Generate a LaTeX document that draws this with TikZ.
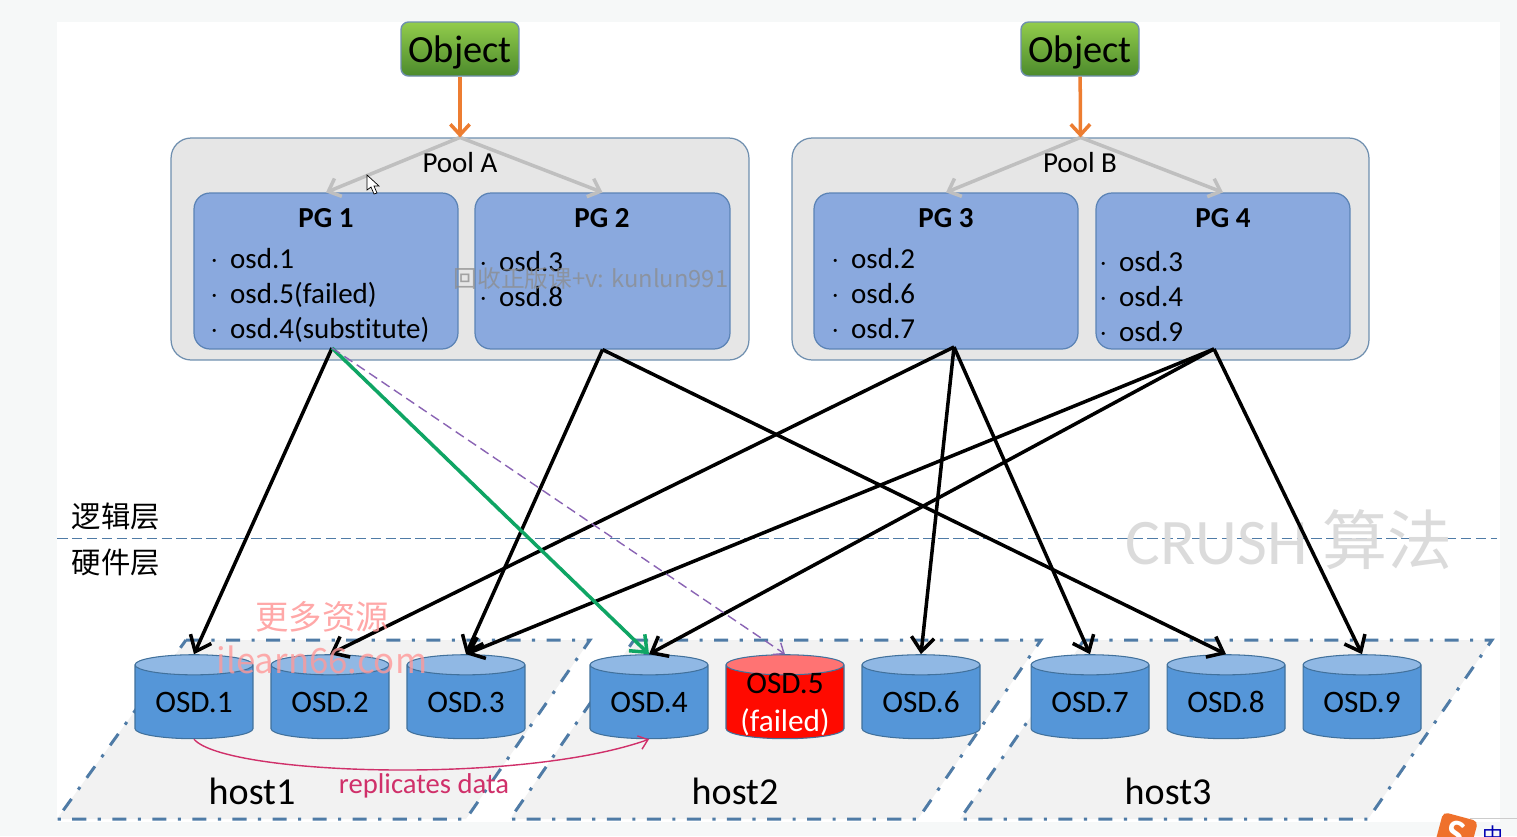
\documentclass[tikz,border=0pt]{standalone}
\usepackage{fontspec}
\setmainfont{Carlito}[Ligatures=NoCommon]
\newfontfamily\cjk{Noto Sans CJK SC}
\usepackage{tikz}
\usetikzlibrary{arrows.meta,positioning,backgrounds,calc,shapes.geometric}
\definecolor{pageback}{HTML}{F6F8F8}
\definecolor{panelline}{HTML}{6F8FAF}
\definecolor{poolfill}{HTML}{E6E6E6}
\definecolor{pgfill}{HTML}{8AA9DE}
\definecolor{pgline}{HTML}{5B83B5}
\definecolor{hostfill}{HTML}{F2F2F2}
\definecolor{hostline}{HTML}{4F7BA6}
\definecolor{osdbody}{HTML}{5596D8}
\definecolor{osdtop}{HTML}{90B8E4}
\definecolor{osdline}{HTML}{41719C}
\definecolor{replred}{HTML}{D0306A}
\definecolor{greenline}{HTML}{0FA564}
\definecolor{orangeline}{HTML}{ED7D31}
\definecolor{failline}{HTML}{8A64B4}
\definecolor{objtop}{HTML}{92CC4C}
\definecolor{objbottom}{HTML}{4C8A2C}
\newcommand{\li}{\makebox[11.3pt][l]{$\cdot$}}
\tikzset{
  px/.style={x=0.02cm,y=-0.02cm},
  objbox/.style={draw=panelline, line width=0.8pt, rounded corners=1.5mm, minimum width=2.36cm, minimum height=1.08cm,
    top color=objtop, bottom color=objbottom, inner sep=0pt, text depth=0pt, font=\fontsize{21.9}{24}\selectfont},
  poolbox/.style={draw=panelline, fill=poolfill, line width=0.7pt, rounded corners=4mm, inner sep=0pt},
  pgbox/.style={draw=pgline, fill=pgfill, line width=0.7pt, rounded corners=3.2mm, inner sep=0pt},
  pgtitle/.style={font=\fontsize{16.5}{20}\selectfont\bfseries, inner sep=0pt},
  pgtext/.style={font=\fontsize{16.5}{19.9}\selectfont, inner sep=0pt, anchor=north west, align=left},
  osd/.style={cylinder, shape border rotate=90, aspect=0.26, draw=osdline, line width=0.6pt, cylinder uses custom fill,
    cylinder body fill=osdbody, cylinder end fill=osdtop, minimum width=2.36cm, minimum height=1.68cm, inner sep=0pt,
    font=\fontsize{17.8}{20}\selectfont},
  osdfail/.style={osd, cylinder body fill=red!92!orange, cylinder end fill=red!55!white},
  hostpanel/.style={fill=hostfill, draw=hostline, line width=1.7pt, dash pattern=on 8pt off 6.5pt on 1.8pt off 6.5pt},
  hostlabel/.style={font=\fontsize{21.7}{24}\selectfont, inner sep=0pt},
  link/.style={-{Straight Barb[length=8pt,width=13pt]}, black, line width=2pt},
  thin link/.style={-{Straight Barb[length=6pt,width=11pt]}, orangeline, line width=2pt},
  gray link/.style={-{Straight Barb[length=6pt,width=11pt]}, gray!50, line width=2pt},
  fine link/.style={-{Straight Barb[length=5pt,width=8pt]}, line width=0.8pt}
}

\begin{document}
\begin{tikzpicture}[px]
  \useasboundingbox (0,0) rectangle (1517,836);
  \clip (0,0) rectangle (1517,836);
  \fill[pageback] (0,0) rectangle (1517,836);
  \fill[white] (57,22) rectangle (1500,822);

  % hosts
  \draw[hostpanel] (186,640) -- (590,640) -- (466,819) -- (57,819) -- cycle;
  \draw[hostpanel] (634,640) -- (1041,640) -- (918,819) -- (510,819) -- cycle;
  \draw[hostpanel] (1084,640) -- (1492,640) -- (1368,819) -- (960,819) -- cycle;
  \node[hostlabel] (host1) at (252,791) {host1};
  \node[hostlabel] (host2) at (735,791) {host2};
  \node[hostlabel] (host3) at (1168,791) {host3};

  % layers
  \coordinate (layerl) at (57,538);
  \coordinate (layerr) at (1497,538);
  \draw[hostline, line width=0.5pt, dashed, dash pattern=on 6pt off 2.5pt] (layerl) -- (layerr);
  \node[font=\cjk\fontsize{16.7}{20}\selectfont, inner sep=0pt] (logic) at (116,516) {逻辑层};
  \node[font=\cjk\fontsize{16.7}{20}\selectfont, inner sep=0pt] (hard) at (116,563) {硬件层};
  \node[text=black!14, font=\fontsize{37}{40}\selectfont, inner sep=0pt] (crush) at (1289,540) {CRUSH {\cjk 算法}};

  % pools
  \node[objbox] (obja) at (460,49) {Object};
  \node[objbox] (objb) at (1080,49) {Object};
  \node[poolbox, minimum width=11.56cm, minimum height=4.44cm] (poola) at (460,249) {};
  \node[poolbox, minimum width=11.54cm, minimum height=4.44cm] (poolb) at (1080.5,249) {};
  \node[pgbox, minimum width=5.28cm, minimum height=3.12cm] (pg1) at (326,271) {};
  \node[pgbox, minimum width=5.1cm, minimum height=3.12cm] (pg2) at (602.5,271) {};
  \node[pgbox, minimum width=5.28cm, minimum height=3.12cm] (pg3) at (946,271) {};
  \node[pgbox, minimum width=5.08cm, minimum height=3.12cm] (pg4) at (1223,271) {};
  \draw[gray link] (poola.north) -- (pg1.north);
  \draw[gray link] (poola.north) -- (pg2.north);
  \draw[gray link] (poolb.north) -- (pg3.north);
  \draw[gray link] (poolb.north) -- (pg4.north);
  \draw[thin link] (obja) -- (poola.north);
  \draw[thin link] (objb) -- (poolb.north);
  \node[font=\fontsize{16.5}{20}\selectfont, inner sep=0pt] (poolalabel) at (460,163) {Pool A};
  \node[font=\fontsize{16.5}{20}\selectfont, inner sep=0pt] (poolblabel) at (1080,163) {Pool B};
  \node[pgtitle] (pg1title) at (326,218) {PG 1};
  \node[pgtitle] (pg2title) at (602,218) {PG 2};
  \node[pgtitle] (pg3title) at (946,218) {PG 3};
  \node[pgtitle] (pg4title) at (1223,218) {PG 4};
  \node[pgtext] (pg1list) at (210,248) {\li osd.1\\ \li osd.5(failed)\\ \li osd.4(substitute)};
  \node[pgtext] (pg2list) at (479,251) {\li osd.3\\ \li osd.8};
  \node[pgtext] (pg3list) at (831,248) {\li osd.2\\ \li osd.6\\ \li osd.7};
  \node[pgtext] (pg4list) at (1099,251) {\li osd.3\\ \li osd.4\\ \li osd.9};

  % disks
  \node[osd] (osd1) at (194,702) {OSD.1};
  \node[osd] (osd2) at (330,702) {OSD.2};
  \node[osd] (osd3) at (466,702) {OSD.3};
  \node[osd] (osd4) at (649,702) {OSD.4};
  \node[osdfail] (osd5) at (785,702) {\phantom{OSD.5}};
  \node[font=\fontsize{17.8}{20}\selectfont, inner sep=0pt] (osd5name) at (785,683) {OSD.5};
  \node[text=white, font=\fontsize{17.8}{20}\selectfont, inner sep=0pt] (osd5state) at (785,722) {(failed)};
  \node[osd] (osd6) at (921,702) {OSD.6};
  \node[osd] (osd7) at (1090,702) {OSD.7};
  \node[osd] (osd8) at (1226,702) {OSD.8};
  \node[osd] (osd9) at (1362,702) {OSD.9};

  % mapping
  \coordinate (pg1out) at (332,348);
  \coordinate (pg3out) at (954,347);
  \coordinate (pg4out) at (1214,349);
  \draw[link] (pg1out) -- (osd1.north);
  \draw[link] (pg2.south) -- (osd3.north);
  \draw[link] (pg2.south) -- (osd8.north);
  \draw[link] (pg3out) -- (osd2.north);
  \draw[link] (pg3out) -- (osd6.north);
  \draw[link] (pg3out) -- (osd7.north);
  \draw[link] (pg4out) -- (osd3.north);
  \draw[link] (pg4out) -- (osd4.north);
  \draw[link] (pg4out) -- (osd9.north);
  \draw[link, greenline] (pg1out) -- (osd4.north);
  \draw[fine link, failline, dash pattern=on 5.5pt off 3pt] (pg1out) -- (osd5.north);
  \draw[fine link, replred] (osd1.south) .. controls (225,775) and (520,785) .. (osd4.south);
  \node[text=replred, font=\fontsize{16.3}{20}\selectfont, inner sep=0pt] (repl) at (424,786) {replicates data};

  % marks on the recording
  \node[text=black!45, opacity=0.75, font=\cjk\fontsize{13.5}{16}\selectfont, inner sep=0pt] (mark1) at (591,279) {回收正版课+v: kunlun991};
  \node[text=red!40, opacity=0.85, font=\cjk\fontsize{19}{22}\selectfont, inner sep=0pt] (mark2) at (322,617) {更多资源};
  \node[text=red!40, opacity=0.8, font=\cjk\fontsize{19.8}{22}\selectfont, inner sep=0pt] (mark3) at (322,660) {ilearn66.com};
  \draw[black, fill=white, line width=0.4pt] (367,175) -- (367,190) -- (371,187) -- (374,194) -- (377,193) -- (374,186) -- (379,186) -- cycle;
  \draw[gray!40, line width=0.5pt] (1470,818) -- (1517,818);
  \node[fill=orangeline!90!red, rotate=-15, rounded corners=1mm, minimum size=0.72cm, inner sep=0pt, text=white, font=\fontsize{22}{22}\selectfont\bfseries] (sogou) at (1456,834) {S};
  \node[text=blue!70!black, font=\cjk\fontsize{12}{14}\selectfont, inner sep=0pt] (ime) at (1493,835) {中};
\end{tikzpicture}
\end{document}
